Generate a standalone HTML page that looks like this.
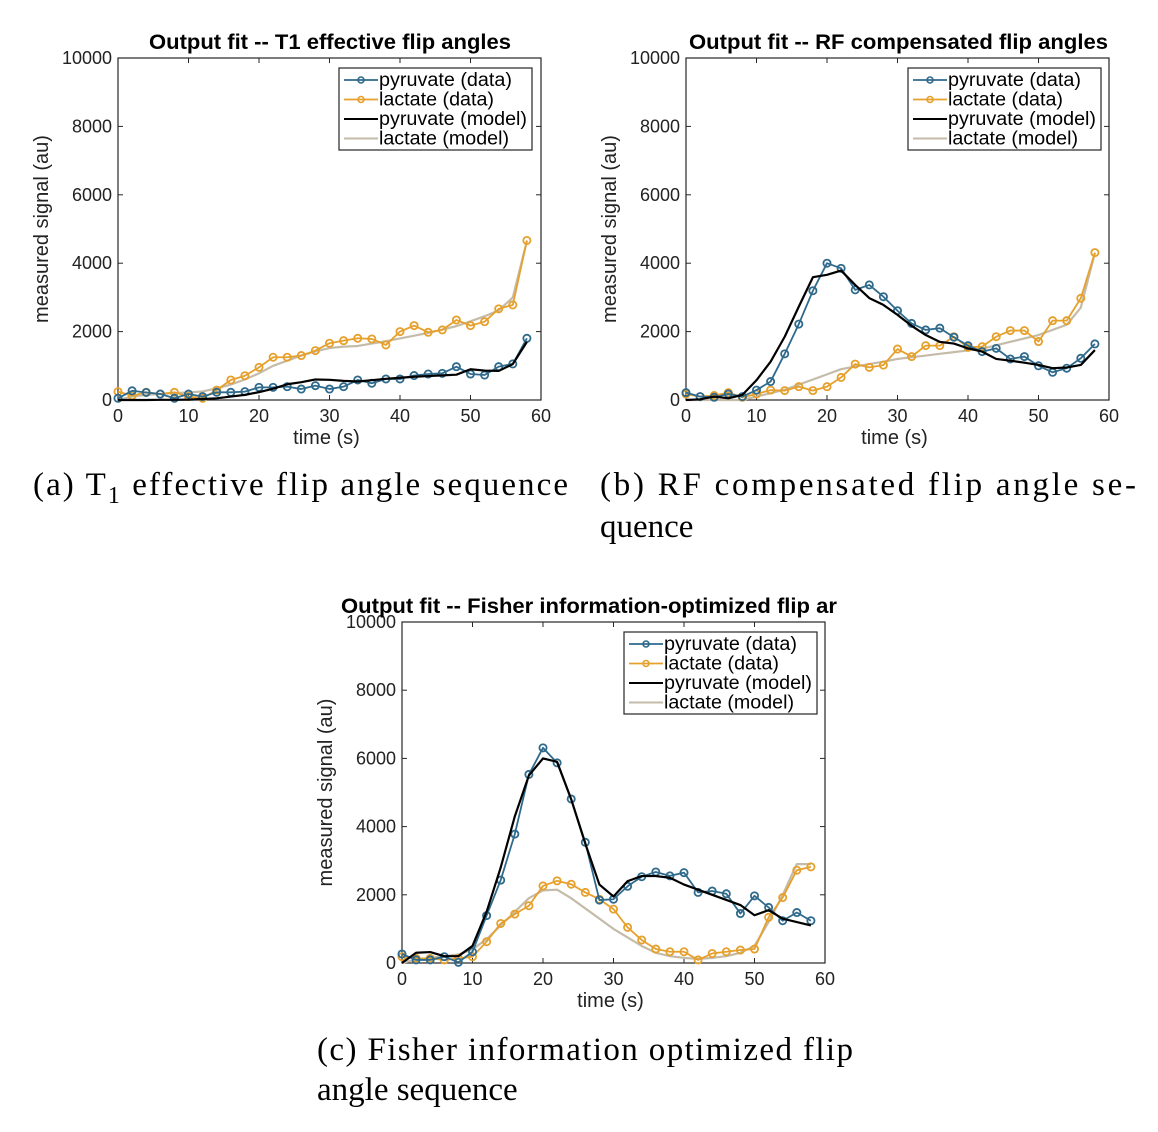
<!DOCTYPE html>
<html><head><meta charset="utf-8">
<style>
html,body{margin:0;padding:0;background:#fff;}
svg{display:block;}
.tk{font-family:"Liberation Sans",sans-serif;font-size:18px;fill:#222;}
.ttl{font-family:"Liberation Sans",sans-serif;font-size:21px;font-weight:bold;fill:#000;}
.lab{font-family:"Liberation Sans",sans-serif;font-size:20px;fill:#222;}
.leg{font-family:"Liberation Sans",sans-serif;font-size:19px;fill:#000;}
.cap{font-family:"Liberation Serif",serif;font-size:33px;fill:#000;}
</style></head>
<body>
<svg id="fig" width="1158" height="1132" viewBox="0 0 1158 1132" xmlns="http://www.w3.org/2000/svg">
<text class="cap" x="33" y="495" textLength="535">(a) T<tspan font-size="24" dy="8">1</tspan><tspan dy="-8"> effective flip angle sequence</tspan></text>
<text class="cap" x="600" y="495" textLength="536">(b) RF compensated flip angle se-</text>
<text class="cap" x="600" y="537">quence</text>
<text class="cap" x="317" y="1060" textLength="536">(c) Fisher information optimized flip</text>
<text class="cap" x="317" y="1100">angle sequence</text>
</svg>
<script>
const times = [0,2,4,6,8,10,12,14,16,18,20,22,24,26,28,30,32,34,36,38,40,42,44,46,48,50,52,54,56,58];
const yTicks = [0,2000,4000,6000,8000,10000];
const xTicks = [0,10,20,30,40,50,60];
const legendLabels = ["pyruvate (data)","lactate (data)","pyruvate (model)","lactate (model)"];

const pyrDataA = [50,270,220,175,50,175,100,225,225,245,370,370,390,320,420,320,390,585,490,615,615,715,760,780,975,760,730,975,1055,1805];
const lacDataA = [245,125,225,175,225,100,50,290,585,710,955,1250,1250,1300,1445,1660,1735,1805,1785,1610,2000,2175,1980,2050,2340,2175,2290,2665,2780,4665];
const pyrModelA = [0,0,0,5,5,10,30,50,100,150,230,330,460,520,600,590,560,540,580,620,650,680,700,720,740,900,860,850,1050,1700];
const lacModelA = [0,100,150,180,200,220,250,340,450,600,780,1000,1150,1300,1420,1520,1560,1580,1650,1720,1800,1880,1960,2060,2160,2300,2450,2620,3000,4650];

const pyrDataB = [215,100,80,175,100,290,540,1350,2220,3195,4000,3850,3220,3365,3020,2610,2240,2050,2100,1835,1590,1415,1510,1200,1270,1000,810,930,1220,1640];
const lacDataB = [175,100,130,215,80,175,290,275,390,275,390,660,1050,955,1020,1490,1270,1590,1590,1850,1540,1560,1850,2030,2030,1710,2320,2320,2975,4310];
const pyrModelB = [0,20,100,50,150,580,1120,1850,2730,3590,3660,3785,3365,2980,2780,2490,2170,1900,1700,1650,1510,1415,1200,1150,1090,1025,930,950,1025,1460];
const lacModelB = [0,0,0,0,0,100,200,300,450,600,750,900,980,1050,1120,1200,1250,1300,1350,1400,1450,1500,1600,1700,1800,1900,2050,2200,2700,4300];

const pyrDataC = [265,90,90,185,20,330,1390,2430,3780,5530,6310,5870,4810,3540,1845,1870,2250,2530,2670,2555,2650,2070,2110,2030,1450,1970,1630,1240,1480,1240];
const lacDataC = [185,135,135,90,135,185,625,1160,1435,1680,2260,2410,2310,2070,1870,1580,1045,675,410,330,330,90,280,330,380,410,1340,1920,2720,2820];
const pyrModelC = [0,300,320,200,200,500,1500,2800,4300,5500,6000,5900,4800,3500,2300,1950,2400,2550,2550,2500,2300,2150,2000,1850,1700,1400,1550,1300,1200,1100];
const lacModelC = [0,100,150,200,250,400,700,1100,1500,1900,2130,2150,1900,1600,1300,1000,750,500,300,200,150,120,150,200,300,500,1200,2000,2900,2900];

const NS="http://www.w3.org/2000/svg";
const svg=document.getElementById('fig');
function mk(tag,attrs,parent){const e=document.createElementNS(NS,tag);for(const k in attrs)e.setAttribute(k,attrs[k]);(parent||svg).appendChild(e);return e;}

function panel(id,L,T,R,B,title,titleX,titleW,pd,ld,pm,lm,legX,legY){
  const g=mk('g',{});
  
  
  const xs=t=>L+(t/60)*(R-L);
  const ys=v=>B-(v/10000)*(B-T);
  mk('rect',{x:L,y:T,width:R-L,height:B-T,fill:'#fff',stroke:'#262626','stroke-width':1.2},g);
  xTicks.forEach(t=>{
    mk('line',{x1:xs(t),x2:xs(t),y1:B,y2:B-5,stroke:'#262626'},g);
    mk('line',{x1:xs(t),x2:xs(t),y1:T,y2:T+5,stroke:'#262626'},g);
    const tx=mk('text',{x:xs(t),y:B+22,'text-anchor':'middle',class:'tk'},g);
    tx.textContent=t;
    
    
  });
  yTicks.forEach(v=>{
    mk('line',{x1:L,x2:L+5,y1:ys(v),y2:ys(v),stroke:'#262626'},g);
    mk('line',{x1:R,x2:R-5,y1:ys(v),y2:ys(v),stroke:'#262626'},g);
    const tx=mk('text',{x:L-6,y:ys(v)+6,'text-anchor':'end',class:'tk'},g);
    tx.textContent=v;
    
    
  });
  const xt=mk('text',{x:(L+R)/2-3,y:B+44,'text-anchor':'middle',class:'lab'},g);
  xt.textContent='time (s)';
  
  
  const yt=mk('text',{x:0,y:0,'text-anchor':'middle',class:'lab',transform:`translate(${L-70},${(T+B)/2}) rotate(-90)`},g);
  yt.textContent='measured signal (au)';
  
  
  const tt=mk('text',{x:titleX,y:T-9,class:'ttl',textLength:titleW,lengthAdjust:'spacingAndGlyphs'},g);
  tt.textContent=title;
  
  
  const line=(arr,col,w,name,markers)=>{
    const p=mk('polyline',{points:arr.map((v,i)=>xs(times[i])+','+ys(v)).join(' '),fill:'none',stroke:col,'stroke-width':w,'stroke-linejoin':'round'},g);
    
    
    if(markers)arr.forEach((v,i)=>{
      const c=mk('circle',{cx:xs(times[i]),cy:ys(v),r:3.6,fill:'none',stroke:col,'stroke-width':1.8},g);
      
      
    });
  };
  line(lm,'#c5bba9',2.2,'lactate-model-line',false);
  line(ld,'#e6a02c',1.8,'lactate-data-line',true);
  line(pd,'#2f6a8c',1.8,'pyruvate-data-line',true);
  line(pm,'#000',2.2,'pyruvate-model-line',false);
  const lg=mk('g',{},g);
  
  
  mk('rect',{x:legX,y:legY,width:193,height:82,fill:'#fff',stroke:'#262626','stroke-width':1.2},lg);
  const cols=['#2f6a8c','#e6a02c','#000','#c5bba9'];
  legendLabels.forEach((lab,i)=>{
    const yy=legY+12+i*19.5;
    mk('line',{x1:legX+5,x2:legX+39,y1:yy,y2:yy,stroke:cols[i],'stroke-width':i>1?2:1.8},lg);
    if(i<2)mk('circle',{cx:legX+22,cy:yy,r:3,fill:'none',stroke:cols[i],'stroke-width':1.6},lg);
    const t=mk('text',{x:legX+40,y:yy+6,class:'leg',textLength:148,lengthAdjust:'spacingAndGlyphs'},lg);
    if(i===0)t.setAttribute('textLength',133);
    if(i===1)t.setAttribute('textLength',115);
    if(i===3)t.setAttribute('textLength',130);
    t.textContent=lab;
    
    
  });
}
panel('a',118,58,541,400,'Output fit -- T1 effective flip angles',149,362,pyrDataA,lacDataA,pyrModelA,lacModelA,339,68);
panel('b',686,58,1109,400,'Output fit -- RF compensated flip angles',689,419,pyrDataB,lacDataB,pyrModelB,lacModelB,908,68);
panel('c',402,622,825,963,'Output fit -- Fisher information-optimized flip ar',341,496,pyrDataC,lacDataC,pyrModelC,lacModelC,624,632);
</script>
</body></html>
